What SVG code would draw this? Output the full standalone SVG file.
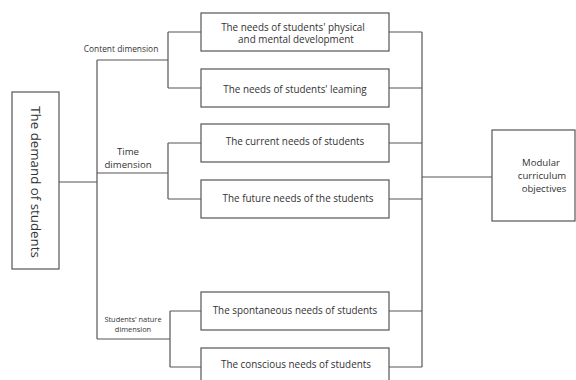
<svg xmlns="http://www.w3.org/2000/svg" width="576" height="380" viewBox="0 0 576 380">
  <style>
    .box { fill: #ffffff; stroke: #555555; stroke-width: 1.2; }
    .wire { fill: none; stroke: #555555; stroke-width: 1.2; }
    text { font-family: "Open Sans", "Noto Sans", "DejaVu Sans", sans-serif; fill: #333333; text-anchor: middle; dominant-baseline: central; }
    .t { font-size: 9.9px; }
    .t2 { font-size: 9.6px; }
    .lbl { font-size: 8.4px; }
    .lbl-s { font-size: 7.4px; }
  </style>
  <rect width="576" height="380" fill="#ffffff"/>

  <!-- connectors -->
  <g id="connectors" class="wire">
    <path d="M59,182 H97"/>
    <path d="M97,60 V339"/>
    <path d="M97,60 H168 M168,32 V88 M168,32 H201 M168,88 H201"/>
    <path d="M97,173 H168 M168,143 V199 M168,143 H201 M168,199 H201"/>
    <path d="M97,339 H170 M170,311 V367 M170,311 H201 M170,367 H201"/>
    <path d="M389,32 H422 M389,88 H422 M389,143 H422 M389,199 H422 M389,311 H422 M389,367 H422"/>
    <path d="M422,32 V367"/>
    <path d="M422,177 H492"/>
  </g>

  <!-- branch labels -->
  <g id="labels">
    <text class="lbl" x="121" y="48">Content dimension</text>
    <text class="t2" x="128" y="151">Time</text>
    <text class="t2" x="128" y="164">dimension</text>
    <text class="lbl-s" x="133" y="318.5">Students' nature</text>
    <text class="lbl-s" x="133" y="328.5">dimension</text>
  </g>

  <g id="demand">
    <rect class="box" x="12" y="92" width="47" height="177"/>
    <text x="36" y="182" font-size="13.3" transform="rotate(90 36 182)">The demand of students</text>
  </g>

  <g id="need-physical">
    <rect class="box" x="201" y="13" width="188" height="38"/>
    <text class="t" x="293" y="26.5">The needs of students' physical</text>
    <text class="t" x="296" y="39">and mental development</text>
  </g>

  <g id="need-learning">
    <rect class="box" x="201" y="69" width="188" height="38"/>
    <text class="t" x="295" y="89">The needs of students' leaming</text>
  </g>

  <g id="need-current">
    <rect class="box" x="201" y="124" width="188" height="38"/>
    <text class="t" x="295" y="141">The current needs of students</text>
  </g>

  <g id="need-future">
    <rect class="box" x="201" y="180" width="188" height="38"/>
    <text class="t" x="298" y="198">The future needs of the students</text>
  </g>

  <g id="need-spontaneous">
    <rect class="box" x="201" y="292" width="188" height="38"/>
    <text class="t" x="295" y="310">The spontaneous needs of students</text>
  </g>

  <g id="need-conscious">
    <rect class="box" x="201" y="348" width="188" height="38"/>
    <text class="t" x="296" y="364">The conscious needs of students</text>
  </g>

  <g id="objectives">
    <rect class="box" x="492" y="130" width="83" height="91"/>
    <text class="t2" x="541" y="162">Modular</text>
    <text class="t2" x="542" y="175">curriculum</text>
    <text class="t2" x="544" y="188">objectives</text>
  </g>
</svg>
